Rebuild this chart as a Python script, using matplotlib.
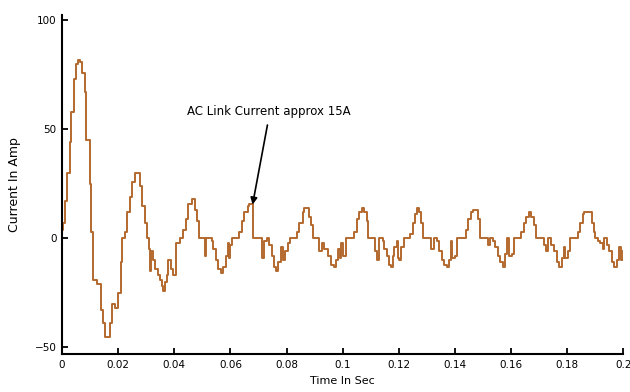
import matplotlib
matplotlib.use("Agg")
import matplotlib.pyplot as plt

# --- Data (time in sec, current in amp) ---
time_s = [
    0.0000, 0.0004, 0.0011, 0.0018, 0.0029, 0.0032, 0.0043, 0.0050, 0.0057, 0.0064,
    0.0071, 0.0082, 0.0086, 0.0100, 0.0104, 0.0111, 0.0125, 0.0139, 0.0146, 0.0154,
    0.0164, 0.0171, 0.0179, 0.0189, 0.0200, 0.0211, 0.0214, 0.0225, 0.0232, 0.0243,
    0.0250, 0.0261, 0.0271, 0.0279, 0.0286, 0.0296, 0.0304, 0.0311, 0.0314, 0.0318,
    0.0325, 0.0332, 0.0343, 0.0350, 0.0357, 0.0361, 0.0368, 0.0375, 0.0379, 0.0389,
    0.0396, 0.0407, 0.0421, 0.0432, 0.0443, 0.0450, 0.0464, 0.0475, 0.0482, 0.0489,
    0.0504, 0.0511, 0.0514, 0.0521, 0.0536, 0.0539, 0.0550, 0.0557, 0.0568, 0.0575,
    0.0586, 0.0593, 0.0596, 0.0600, 0.0607, 0.0621, 0.0629, 0.0643, 0.0650, 0.0661,
    0.0668, 0.0679, 0.0682, 0.0707, 0.0714, 0.0721, 0.0732, 0.0739, 0.0750, 0.0757,
    0.0764, 0.0771, 0.0782, 0.0789, 0.0796, 0.0804, 0.0814, 0.0832, 0.0839, 0.0846,
    0.0857, 0.0861, 0.0871, 0.0879, 0.0886, 0.0893, 0.0911, 0.0914, 0.0925, 0.0932,
    0.0946, 0.0957, 0.0968, 0.0975, 0.0982, 0.0989, 0.0993, 0.1000, 0.1011, 0.1029,
    0.1039, 0.1050, 0.1057, 0.1068, 0.1075, 0.1086, 0.1089, 0.1107, 0.1114, 0.1121,
    0.1129, 0.1143, 0.1146, 0.1157, 0.1164, 0.1171, 0.1179, 0.1182, 0.1193, 0.1196,
    0.1200, 0.1207, 0.1218, 0.1232, 0.1239, 0.1250, 0.1257, 0.1264, 0.1271, 0.1279,
    0.1286, 0.1307, 0.1314, 0.1325, 0.1336, 0.1343, 0.1354, 0.1361, 0.1371, 0.1379,
    0.1386, 0.1389, 0.1400, 0.1407, 0.1429, 0.1439, 0.1446, 0.1457, 0.1464, 0.1479,
    0.1482, 0.1489, 0.1511, 0.1518, 0.1525, 0.1536, 0.1543, 0.1554, 0.1561, 0.1571,
    0.1579, 0.1586, 0.1593, 0.1604, 0.1611, 0.1625, 0.1636, 0.1646, 0.1654, 0.1664,
    0.1671, 0.1682, 0.1689, 0.1707, 0.1718, 0.1725, 0.1732, 0.1743, 0.1754, 0.1764,
    0.1771, 0.1782, 0.1789, 0.1793, 0.1804, 0.1811, 0.1832, 0.1839, 0.1846, 0.1857,
    0.1861, 0.1882, 0.1889, 0.1896, 0.1900, 0.1911, 0.1918, 0.1929, 0.1932, 0.1943,
    0.1950, 0.1961, 0.1968, 0.1979, 0.1986, 0.1993, 0.2000,
]
current_a = [
    4, 7, 17, 30, 44, 58, 73, 80, 82, 81,
    76, 67, 45, 25, 3, -19, -21, -33, -39, -45,
    -45, -39, -30, -32, -25, -11, 0, 3, 12, 19,
    26, 30, 30, 24, 15, 7, 0, -5, -15, -6,
    -10, -14, -17, -19, -22, -24, -20, -17, -10, -14,
    -17, -2, 0, 4, 9, 16, 18, 13, 8, 0,
    0, -8, 0, 0, -1, -5, -10, -14, -16, -13,
    -8, -2, -9, -3, 0, 0, 3, 8, 12, 15,
    16, 9, 0, 0, -9, -1, 0, -3, -8, -13,
    -15, -11, -4, -10, -6, -2, 0, 0, 3, 7,
    12, 14, 14, 10, 6, 0, 0, -6, -2, -5,
    -8, -12, -13, -10, -5, -9, -2, -8, 0, 0,
    3, 9, 12, 14, 12, 8, 0, 0, -6, -10,
    0, -1, -5, -8, -12, -13, -8, -4, -1, -9,
    -10, -4, 0, 0, 2, 7, 11, 14, 12, 7,
    0, 0, -5, 0, -1, -6, -10, -12, -13, -10,
    -1, -9, -8, 0, 0, 4, 9, 12, 13, 13,
    9, 0, 0, -3, 0, -1, -4, -8, -11, -13,
    -7, 0, -8, -7, 0, 0, 3, 7, 10, 12,
    10, 6, 0, 0, -3, -6, 0, -3, -6, -11,
    -13, -9, -4, -9, -6, 0, 0, 3, 7, 11,
    12, 12, 7, 3, 0, -1, -2, -5, 0, -3,
    -6, -11, -13, -10, -4, -10, -6,
]

x_ticks = [0, 0.02, 0.04, 0.06, 0.08, 0.1, 0.12, 0.14, 0.16, 0.18, 0.2]
x_tick_labels = ["0", "0.02", "0.04", "0.06", "0.08", "0.1", "0.12", "0.14", "0.16", "0.18", "0.2"]
y_ticks = [-50, 0, 50, 100]

note_text = "AC Link Current approx 15A"
note_pos = (0.0736, 58)
arrow_tip = (0.0679, 15.5)
arrow_tail = (0.0732, 52)

plt.rcParams['font.family'] = ['DejaVu Sans']

fig = plt.figure(figsize=(6.3, 3.92), dpi=100)
ax = fig.add_axes([0.0984, 0.097, 0.891, 0.865])

ax.plot(time_s, current_a, color="#b3692e", lw=1.4, drawstyle="steps-post")

ax.set_xlim(0, 0.2)
ax.set_ylim(-53, 102.5)
ax.set_xticks(x_ticks)
ax.set_xticklabels(x_tick_labels)
ax.set_yticks(y_ticks)

ax.spines['top'].set_visible(False)
ax.spines['right'].set_visible(False)
for s in ('left', 'bottom'):
    ax.spines[s].set_linewidth(1.5)
ax.tick_params(direction='in', length=4, width=1.3, labelsize=7.5, pad=4)

ax.set_xlabel("Time In Sec", fontsize=8, labelpad=5)
ax.set_ylabel("Current In Amp", fontsize=9, labelpad=10)

ax.text(note_pos[0], note_pos[1], note_text, fontsize=8.5, ha='center', va='center')
ax.annotate("", xy=arrow_tip, xytext=arrow_tail,
            arrowprops=dict(arrowstyle='-|>', color='black', lw=1.2,
                            mutation_scale=10, shrinkA=0, shrinkB=0))

fig.savefig("out.png", dpi=100)
